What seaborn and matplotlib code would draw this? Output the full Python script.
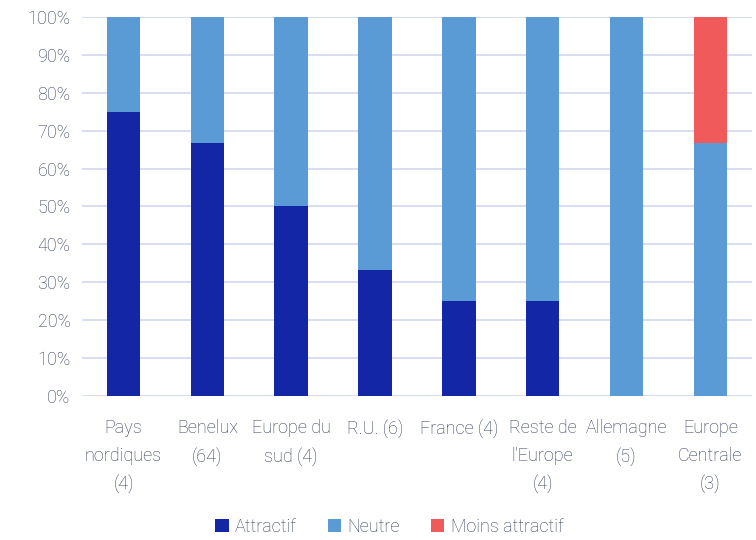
import matplotlib
matplotlib.use("Agg")
import matplotlib.pyplot as plt
import seaborn as sns
import pandas as pd
import numpy as np
from matplotlib.patches import Patch

categories = ["Pays\nnordiques\n(4)", "Benelux\n(64)", "Europe du\nsud (4)", "R.U. (6)",
              "France (4)", "Reste de\nl'Europe\n(4)", "Allemagne\n(5)", "Europe\nCentrale\n(3)"]
attractif = [75.0, 66.7, 50.0, 33.3, 25.0, 25.0, 0.0, 0.0]
neutre = [25.0, 33.3, 50.0, 66.7, 75.0, 75.0, 100.0, 66.7]
moins_attractif = [0.0, 0.0, 0.0, 0.0, 0.0, 0.0, 0.0, 33.3]
series_names = ["Attractif", "Neutre", "Moins attractif"]
colors = ["#1226A6", "#5B9BD5", "#F05A5A"]

sns.set_theme(style="white")
plt.rcParams['font.family'] = ['Roboto', 'DejaVu Sans']
txt = "#2E3A57"

df = pd.DataFrame({"cat": categories, "a": attractif, "n": neutre, "m": moins_attractif})
df["c1"] = df["a"]
df["c2"] = df["a"] + df["n"]
df["c3"] = df["a"] + df["n"] + df["m"]

fig = plt.figure(figsize=(7.56, 5.4), dpi=100)
ax = fig.add_axes([0.108, 0.267, 0.887, 0.7015])

for col, c in zip(["c3", "c2", "c1"], colors[::-1]):
    sns.barplot(data=df, x="cat", y=col, color=c, width=0.4, ax=ax,
                saturation=1, zorder=3, edgecolor="none")

ax.set_ylim(0, 100)
ax.set_yticks(np.arange(0, 101, 10))
ax.set_yticklabels([f"{v}%" for v in range(0, 101, 10)])
ax.set_xlim(-0.5, 7.5)
ax.yaxis.grid(True, color="#D6DAF0", linewidth=1.3, zorder=0)
ax.xaxis.grid(False)
for s in ax.spines.values():
    s.set_visible(False)
ax.set_xlabel("")
ax.set_ylabel("")
ax.tick_params(axis="both", length=0, labelsize=13, labelcolor=txt)
ax.tick_params(axis="x", pad=17)
ax.tick_params(axis="y", pad=8)
for lab in ax.get_xticklabels() + ax.get_yticklabels():
    lab.set_fontweight("light")
for lab in ax.get_xticklabels():
    lab.set_linespacing(1.65)

handles = [Patch(facecolor=c, edgecolor="none") for c in colors]
leg = fig.legend(handles, series_names, loc="center", bbox_to_anchor=(0.515, 0.024),
                 ncol=3, frameon=False, fontsize=13, handlelength=0.75, handleheight=0.75,
                 handletextpad=0.35, columnspacing=1.7)
for t in leg.get_texts():
    t.set_color(txt)
    t.set_fontweight("light")

fig.savefig("out.png", dpi=100)
